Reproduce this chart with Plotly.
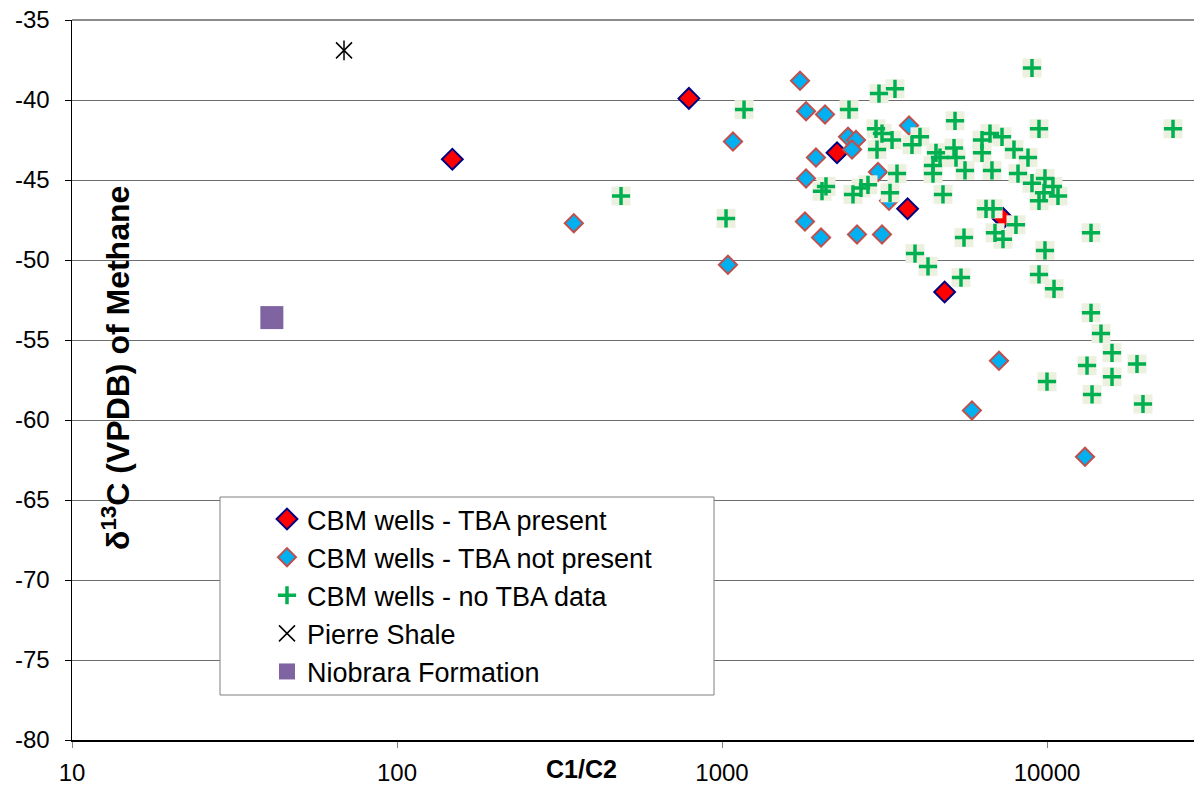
import plotly.graph_objects as go

# ---- data ----
tba_present_x = [148, 791, 2259, 3724, 4842, 7321]
tba_present_y = [-43.7, -39.9, -43.3, -46.8, -52.0, -47.4]

tba_absent_x = [350, 1081, 1043, 1738, 1814, 2075, 1946, 1814, 1800, 2017, 2603,
                3107, 2442, 2584, 2512, 3020, 3265, 3762, 7117, 5876, 13090]
tba_absent_y = [-47.7, -42.6, -50.3, -38.8, -40.7, -40.9, -43.6, -44.9, -47.6, -48.6, -48.4,
                -48.4, -42.3, -42.5, -43.1, -44.5, -46.3, -41.6, -56.3, -59.4, -62.3]

no_tba_x = [489, 1169, 1029, 8990, 3041, 3406, 2459, 5212, 9449, 24420,
            2978, 3107, 3336, 2999, 4066, 3842, 4554, 4686, 4459, 4459,
            5175, 5248, 5594, 6676, 7270, 6310, 6310, 6772, 7914, 8740,
            8143, 8990, 9858, 10430, 10810, 9449, 9790, 9858, 9449, 10510,
            3455, 3288, 4786, 2813, 2677, 2530, 2089, 2031, 6493, 6822,
            6918, 7321, 8027, 5554, 3925, 4304, 5437, 13660, 13660, 14660,
            15850, 18920, 13280, 15850, 10000, 13760, 19740]
no_tba_y = [-46.0, -40.6, -47.4, -38.0, -39.6, -39.3, -40.6, -41.3, -41.8, -41.8,
            -41.8, -42.1, -42.5, -43.1, -42.3, -42.8, -43.3, -43.6, -44.1, -44.6,
            -43.0, -43.6, -44.4, -42.1, -42.3, -42.5, -43.3, -44.4, -43.1, -43.6,
            -44.6, -45.2, -44.9, -45.4, -46.0, -46.3, -45.8, -49.4, -50.9, -51.8,
            -44.6, -45.8, -45.9, -45.3, -45.5, -45.9, -45.4, -45.7, -46.8, -46.8,
            -48.3, -48.7, -47.8, -48.6, -49.6, -50.4, -51.1, -48.3, -53.3, -54.6,
            -55.8, -56.5, -56.6, -57.3, -57.6, -58.4, -59.0]

pierre_x = [68.7]
pierre_y = [-36.9]

niobrara_x = [41.2]
niobrara_y = [-53.6]

series_names = ["CBM wells - TBA present", "CBM wells - TBA not present",
                "CBM wells - no TBA data", "Pierre Shale", "Niobrara Formation"]

y_ticks = [-35, -40, -45, -50, -55, -60, -65, -70, -75, -80]
x_ticks = [10, 100, 1000, 10000]

FONT = "Liberation Sans, Arial, sans-serif"

fig = go.Figure()

fig.add_trace(go.Scatter(
    x=tba_present_x, y=tba_present_y, mode="markers", name=series_names[0],
    marker=dict(symbol="diamond", size=16, color="#FF0000",
                line=dict(color="#000080", width=2))))

fig.add_trace(go.Scatter(
    x=tba_absent_x, y=tba_absent_y, mode="markers", name=series_names[1],
    marker=dict(symbol="diamond", size=14, color="#00B0F0",
                line=dict(color="#C0504D", width=2))))

# pale square background behind the green crosses
fig.add_trace(go.Scatter(
    x=no_tba_x, y=no_tba_y, mode="markers", showlegend=False, hoverinfo="skip",
    marker=dict(symbol="square", size=19, color="#EBF1DE", line=dict(width=0))))

fig.add_trace(go.Scatter(
    x=no_tba_x, y=no_tba_y, mode="markers", name=series_names[2],
    marker=dict(symbol="cross-thin", size=13, color="#00B050",
                line=dict(color="#00B050", width=3.5))))

fig.add_trace(go.Scatter(
    x=pierre_x, y=pierre_y, mode="markers", name=series_names[3],
    marker=dict(symbol="x-thin", size=16, color="#000000",
                line=dict(color="#000000", width=1.5))))
fig.add_trace(go.Scatter(
    x=pierre_x, y=pierre_y, mode="markers", showlegend=False, hoverinfo="skip",
    marker=dict(symbol="line-ns", size=14, color="#000000",
                line=dict(color="#000000", width=1.5))))

fig.add_trace(go.Scatter(
    x=niobrara_x, y=niobrara_y, mode="markers", name=series_names[4],
    marker=dict(symbol="square", size=23, color="#8064A2", line=dict(width=0))))

# plot area in page pixels (page body margin is removed below)
L, R, T, B = 72, 1194, 20, 740
W, H = 1194, 785

def px_x(p):
    return (p - L) / (R - L)

def px_y(p):
    return (B - p) / (B - T)

fig.update_layout(
    width=W, height=H,
    margin=dict(l=L, r=W - R, t=T, b=H - B, pad=0, autoexpand=False),
    paper_bgcolor="white", plot_bgcolor="white",
    font=dict(family=FONT, size=20, color="#000000"),
    showlegend=True,
    legend=dict(x=px_x(267), y=px_y(495), xanchor="left", yanchor="top",
                bgcolor="rgba(0,0,0,0)", borderwidth=0,
                font=dict(family=FONT, size=27, color="#000000"),
                tracegroupgap=0),
    shapes=[
        # top border line (gridline at -35)
        dict(type="line", xref="paper", yref="paper", x0=0, x1=1, y0=1, y1=1,
             line=dict(color="#8C8C8C", width=2), layer="below"),
        # legend frame
        dict(type="rect", xref="paper", yref="paper",
             x0=px_x(220), x1=px_x(714), y0=px_y(695), y1=px_y(497),
             line=dict(color="#808080", width=1), fillcolor="white",
             layer="above"),
    ],
    annotations=[
        dict(text="<b>C1/C2</b>", xref="paper", yref="paper",
             x=px_x(581), y=px_y(769), xanchor="center", yanchor="middle",
             showarrow=False, font=dict(family=FONT, size=25, color="#000000")),
        dict(text="<b>δ<sup>13</sup>C (VPDB) of Methane</b>", xref="paper", yref="paper",
             x=px_x(116), y=px_y(368), xanchor="center", yanchor="middle",
             textangle=-90, showarrow=False,
             font=dict(family=FONT, size=32, color="#000000")),
    ],
)

fig.update_xaxes(
    type="log", range=[1, 1 + (R - L) / 325.0], automargin=False,
    tickmode="array", tickvals=x_ticks, ticktext=[str(v) for v in x_ticks],
    ticks="outside", ticklen=6, tickcolor="#808080", tickwidth=1,
    ticklabelstandoff=4, ticklabeloverflow="allow",
    showgrid=False, zeroline=False,
    showline=True, linecolor="#000000", linewidth=2,
    tickfont=dict(family=FONT, size=24, color="#000000"),
)
fig.update_yaxes(
    range=[-80, -35], automargin=False,
    tickmode="array", tickvals=y_ticks, ticktext=[str(v) for v in y_ticks],
    ticks="outside", ticklen=6, tickcolor="#000000", tickwidth=1,
    ticklabelstandoff=10, ticklabeloverflow="allow",
    showgrid=True, gridcolor="#6E6E6E", gridwidth=1,
    zeroline=False,
    showline=True, linecolor="#000000", linewidth=1.5,
    tickfont=dict(family=FONT, size=24, color="#000000"),
)

fig.write_html("out.html",
               config={"displayModeBar": False, "staticPlot": True},
               post_script="document.body.style.margin='0px';document.body.style.overflow='hidden';")
